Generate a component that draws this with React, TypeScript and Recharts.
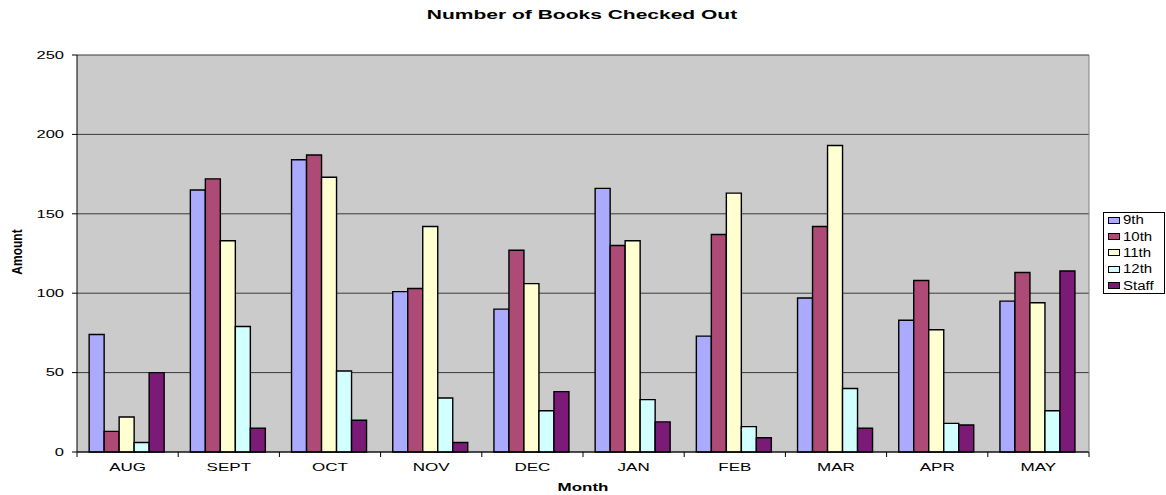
import { Bar, BarChart, CartesianGrid, Legend, XAxis, YAxis } from "recharts";

const months: string[] = ["AUG", "SEPT", "OCT", "NOV", "DEC", "JAN", "FEB", "MAR", "APR", "MAY"];
const ninth: number[] = [74, 165, 184, 101, 90, 166, 73, 97, 83, 95];
const tenth: number[] = [13, 172, 187, 103, 127, 130, 137, 142, 108, 113];
const eleventh: number[] = [22, 133, 173, 142, 106, 133, 163, 193, 77, 94];
const twelfth: number[] = [6, 79, 51, 34, 26, 33, 16, 40, 18, 26];
const staff: number[] = [50, 15, 20, 6, 38, 19, 9, 15, 17, 114];
const yTicks: number[] = [0, 50, 100, 150, 200, 250];

const SERIES = [
  { key: "9th", color: "#AAAAFF" },
  { key: "10th", color: "#AD4A76" },
  { key: "11th", color: "#FFFFD2" },
  { key: "12th", color: "#D2FFFF" },
  { key: "Staff", color: "#7C1A78" },
];

const data = months.map((m, i) => ({
  month: m,
  "9th": ninth[i],
  "10th": tenth[i],
  "11th": eleventh[i],
  "12th": twelfth[i],
  Staff: staff[i],
}));

const FONT = "'Liberation Sans', Arial, sans-serif";
const PLOT_LEFT = 77;
const PLOT_RIGHT = 1089;
const BAND = (PLOT_RIGHT - PLOT_LEFT) / months.length;
const X_MARGIN = 11;

const XTick = (props: any) => {
  const { x, y, payload, index } = props;
  const axisY = y - X_MARGIN;
  const left = x - BAND / 2;
  return (
    <g>
      <line x1={left} x2={left} y1={axisY} y2={axisY + 5} stroke="#000" />
      {index === months.length - 1 && (
        <line x1={x + BAND / 2} x2={x + BAND / 2} y1={axisY} y2={axisY + 5} stroke="#000" />
      )}
      <text
        transform={`translate(${x},${y}) scale(1.55,1)`}
        textAnchor="middle"
        dy="0.71em"
        fontSize={11}
        fontFamily={FONT}
        fill="#000"
      >
        {payload.value}
      </text>
    </g>
  );
};

const YTick = (props: any) => {
  const { x, y, payload } = props;
  return (
    <text
      transform={`translate(${x},${y}) scale(1.5,1)`}
      textAnchor="end"
      dy="0.35em"
      fontSize={11}
      fontFamily={FONT}
      fill="#000"
    >
      {payload.value}
    </text>
  );
};

const LegendBox = () => (
  <div
    style={{
      border: "1px solid #000",
      background: "#fff",
      boxSizing: "border-box",
      height: 82,
      padding: "0 0 0 4px",
      fontFamily: FONT,
      fontSize: 12,
      width: 62,
      overflow: "hidden",
    }}
  >
    <div style={{ marginTop: -1 }}>
      {SERIES.map((s) => (
        <div key={s.key} style={{ display: "flex", alignItems: "center", height: 16.4 }}>
          <span
            style={{
              display: "inline-block",
              width: 10,
              height: 5,
              background: s.color,
              border: "1px solid #000",
              marginRight: 3,
            }}
          />
          <span style={{ display: "inline-block", transform: "scaleX(1.25)", transformOrigin: "left center" }}>
            {s.key}
          </span>
        </div>
      ))}
    </div>
  </div>
);

export default function App() {
  return (
    <div style={{ position: "absolute", left: 0, top: 0, width: 1166, height: 495, background: "#fff" }}>
      <div
        style={{
          position: "absolute",
          left: 582,
          top: 15,
          transform: "translate(-50%,-50%) scaleX(1.75)",
          fontFamily: FONT,
          fontWeight: "bold",
          fontSize: 12,
          whiteSpace: "nowrap",
          lineHeight: "12px",
        }}
      >
        Number of Books Checked Out
      </div>
      <BarChart
        width={1166}
        height={495}
        data={data}
        margin={{ top: 55, right: 76, bottom: 0, left: 0 }}
        barCategoryGap="12%"
        barGap={0}
      >
        <CartesianGrid vertical={false} stroke="#3a3a3a" fill="#CBCBCB" fillOpacity={1} />
        <XAxis
          dataKey="month"
          height={43}
          tickSize={0}
          tickMargin={X_MARGIN}
          tickLine={false}
          axisLine={{ stroke: "#000" }}
          tick={<XTick />}
          interval={0}
          label={{
            content: (p: any) => {
              const vb = p.viewBox;
              return (
                <text
                  transform={`translate(${vb.x + vb.width / 2},491) scale(1.7,1)`}
                  textAnchor="middle"
                  fontSize={10}
                  fontWeight="bold"
                  fontFamily={FONT}
                  fill="#000"
                >
                  Month
                </text>
              );
            },
          }}
        />
        <YAxis
          width={77}
          domain={[0, 250]}
          ticks={yTicks}
          tickSize={5}
          tickMargin={8}
          tickLine={{ stroke: "#000" }}
          axisLine={{ stroke: "#000" }}
          tick={<YTick />}
          interval={0}
          label={{
            content: () => (
              <text
                transform="translate(21.5,252) rotate(-90) scale(1,1.25)"
                textAnchor="middle"
                fontSize={12}
                fontWeight="bold"
                fontFamily={FONT}
                fill="#000"
              >
                Amount
              </text>
            ),
          }}
        />
        <YAxis
          yAxisId="edge"
          orientation="right"
          width={1}
          tick={false}
          tickLine={false}
          axisLine={{ stroke: "#808080" }}
          domain={[0, 250]}
        />
        <Legend
          layout="horizontal"
          verticalAlign="middle"
          align="center"
          content={<LegendBox />}
          wrapperStyle={{ left: 1103, top: 212, width: 62, height: 82 }}
        />
        {SERIES.map((s) => (
          <Bar
            key={s.key}
            dataKey={s.key}
            fill={s.color}
            stroke="#000"
            strokeWidth={1.4}
            isAnimationActive={false}
          />
        ))}
      </BarChart>
    </div>
  );
}
